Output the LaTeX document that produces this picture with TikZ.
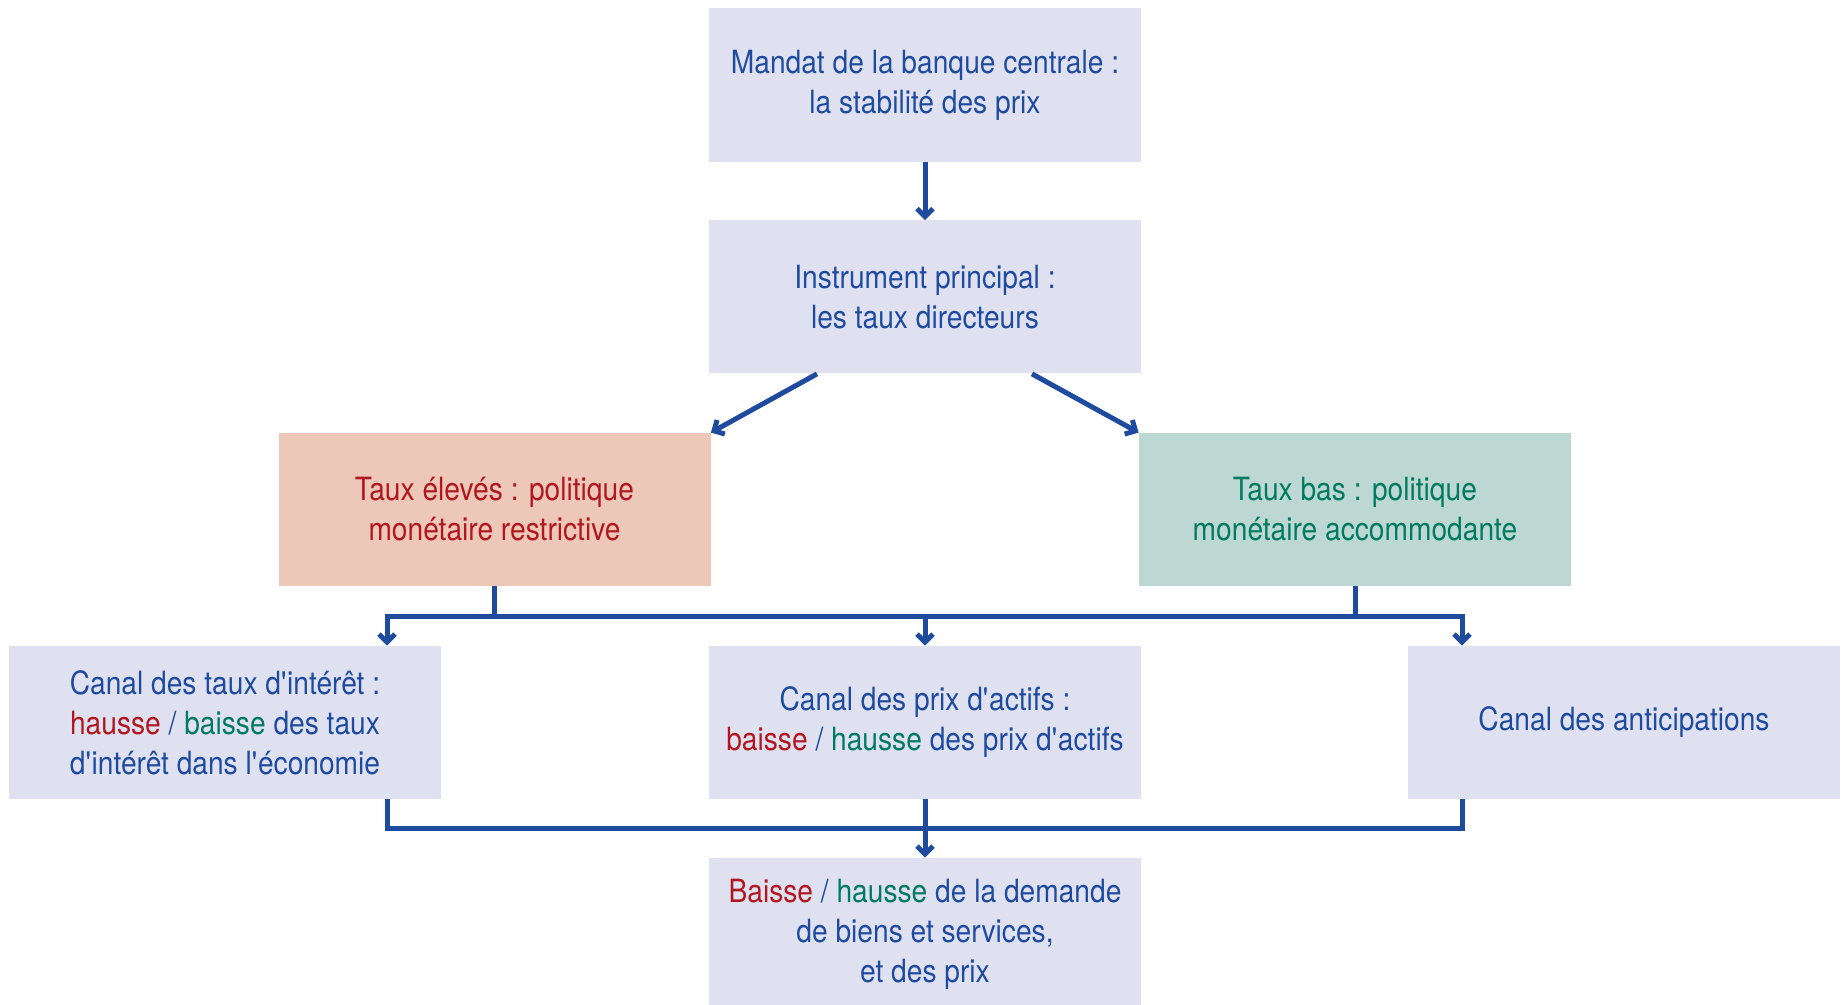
\documentclass[tikz,border=0pt]{standalone}
\usepackage{fontspec}
\setmainfont{TeX Gyre Heros}[FakeStretch=0.88]
\usepackage{tikz}
\usetikzlibrary{arrows.meta}
\definecolor{fondbleu}{HTML}{DFE1F1}
\definecolor{fondrouge}{HTML}{EDC7B7}
\definecolor{fondvert}{HTML}{BDD8D3}
\definecolor{bleu}{HTML}{1E4B9E}
\definecolor{rouge}{HTML}{B1171F}
\definecolor{vert}{HTML}{007A60}
\newcommand{\apos}{\textquotesingle}
\tikzset{
	boite/.style={rectangle, fill=fondbleu, text=bleu, align=center, inner sep=0pt,
		minimum width=216pt, minimum height=76.5pt, font=\fontsize{16}{20}\selectfont},
	lien/.style={draw=bleu, line width=2.5pt, >={Straight Barb[length=4pt,width=8pt]}},
	fleche/.style={lien, ->}
}

\begin{document}
\begin{tikzpicture}[x=0.5pt,y=-0.5pt]
	\useasboundingbox (0,0) rectangle (1842,1005);
	\node[boite, minimum height=77pt] (mandat) at (925,85) {Mandat de la banque centrale :\\la stabilité des prix};
	\node[boite] (instr) at (925,297) {Instrument principal :\\les taux directeurs};
	\node[boite, fill=fondrouge, text=rouge] (eleves) at (494.5,509.5) {Taux élevés : politique\\monétaire restrictive};
	\node[boite, fill=fondvert, text=vert] (bas) at (1355,509.5) {Taux bas : politique\\monétaire accommodante};
	\node[boite] (taux) at (225,722.5) {Canal des taux d\apos intérêt :\\\textcolor{rouge}{hausse} / \textcolor{vert}{baisse} des taux\\d\apos intérêt dans l\apos économie};
	\node[boite] (actifs) at (925,722.5) {Canal des prix d\apos actifs :\\\textcolor{rouge}{baisse} / \textcolor{vert}{hausse} des prix d\apos actifs};
	\node[boite] (antic) at (1624,722.5) {Canal des anticipations};
	\node[boite] (demande) at (925,934.5) {\textcolor{rouge}{Baisse} / \textcolor{vert}{hausse} de la demande\\de biens et services,\\et des prix};
	% les deux barres horizontales
	\coordinate (hautG) at (387,616);
	\coordinate (hautD) at (1462,616);
	\coordinate (basG) at (387,828);
	\coordinate (basD) at (1462,828);
	\draw[fleche] (mandat) -- (instr);
	\draw[fleche] ([xshift=-54pt]instr.south) -- (eleves.north east);
	\draw[fleche] ([xshift=53.5pt]instr.south) -- (bas.north west);
	\draw[lien] (eleves.south) -- (eleves.south |- hautG);
	\draw[lien] (bas.south) -- (bas.south |- hautD);
	\draw[lien, <->] (hautG |- taux.north) -- (hautG) -- (hautD) -- (hautD |- antic.north);
	\draw[fleche] (actifs.north |- hautG) -- (actifs.north);
	\draw[lien] (basG |- taux.south) -- (basG) -- (basD) -- (basD |- antic.south);
	\draw[fleche] (actifs.south) -- (demande.north);
\end{tikzpicture}
\end{document}
